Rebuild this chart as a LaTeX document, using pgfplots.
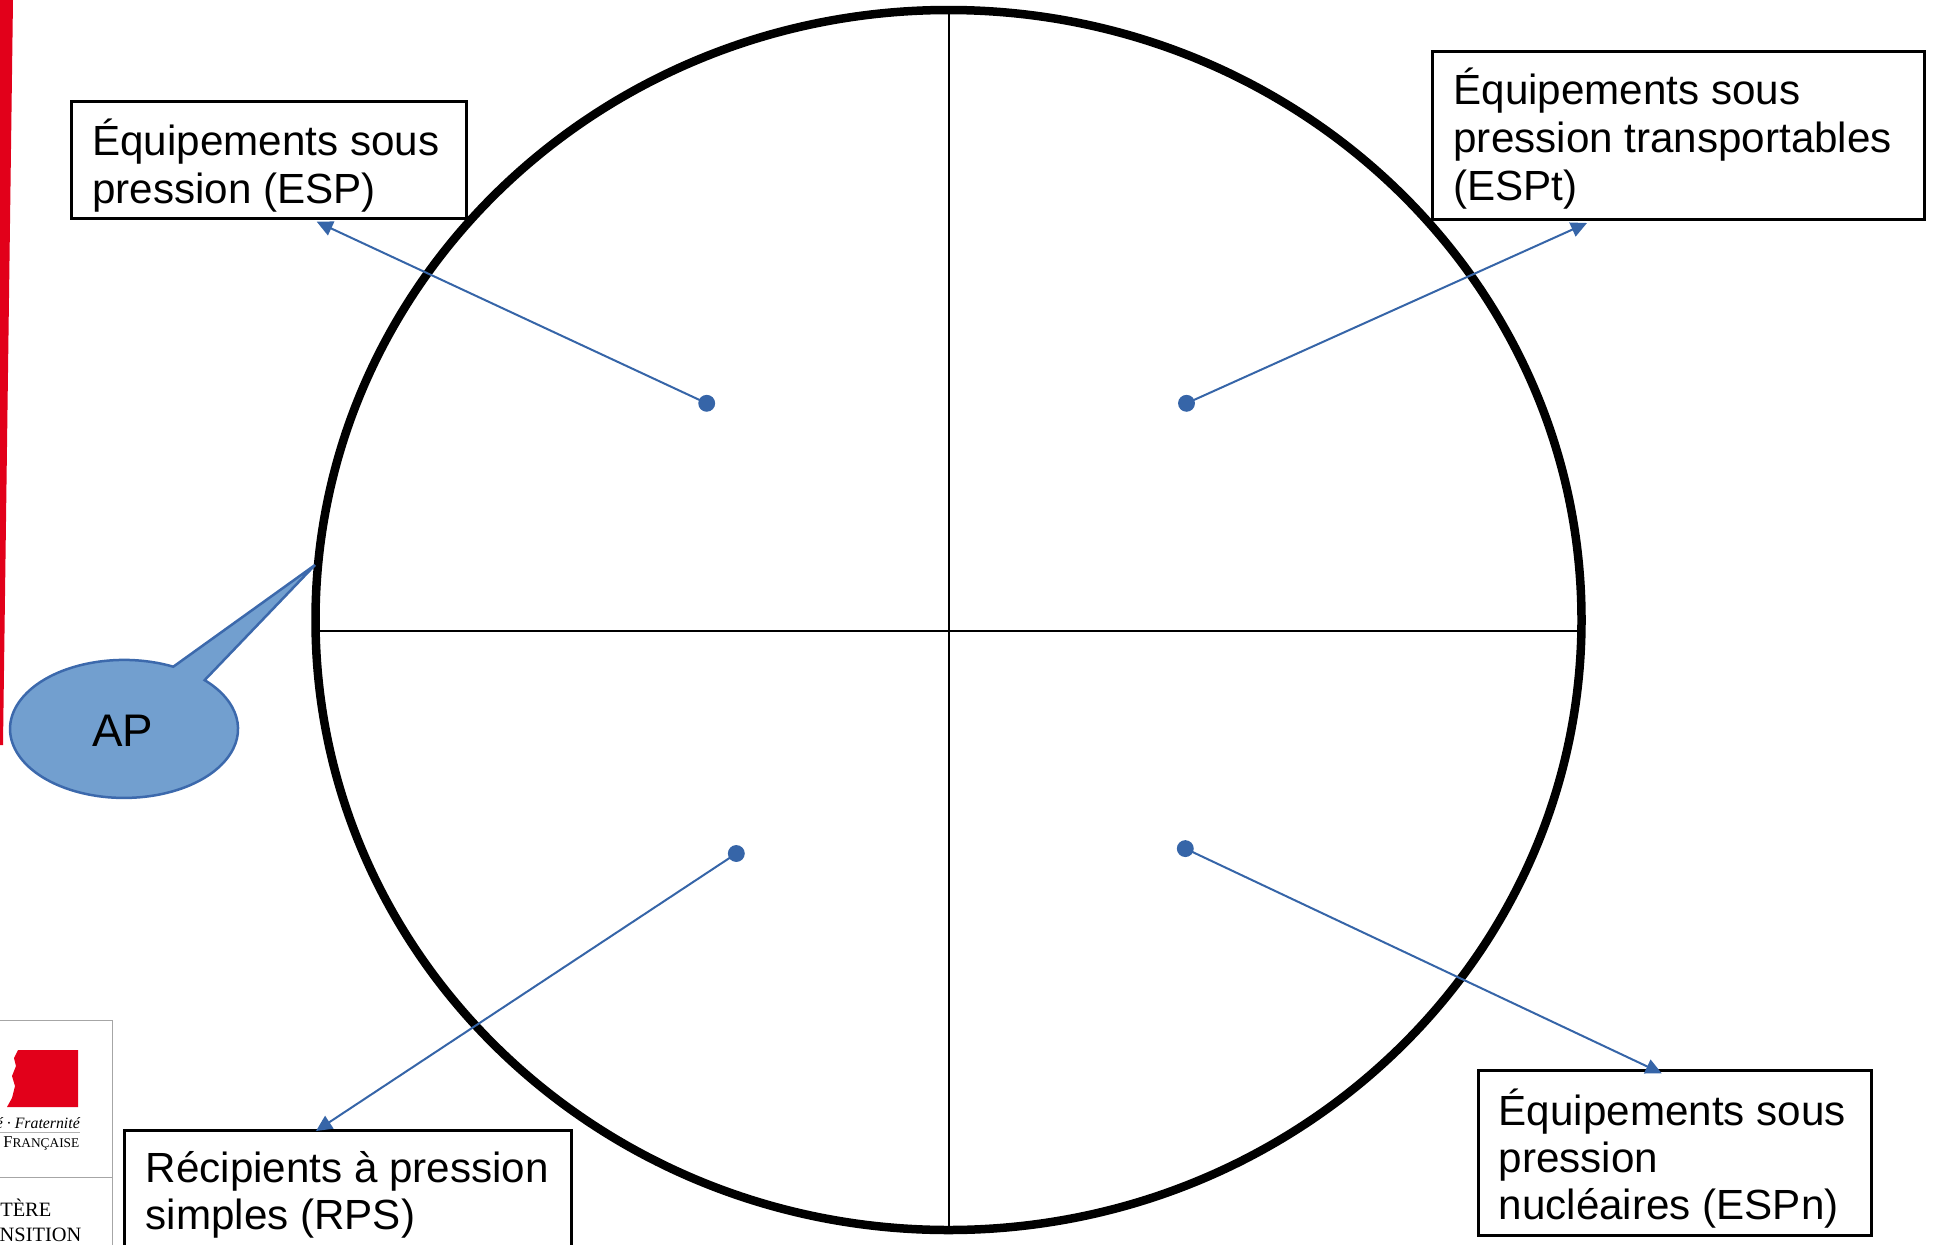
\documentclass[border=0pt]{standalone}
\usepackage{fontspec}
\setmainfont{Liberation Sans}
\newfontfamily\seriffont{Liberation Serif}
\usepackage{pgfplots}
\pgfplotsset{compat=1.18}
\usetikzlibrary{arrows.meta}
\definecolor{ablue}{RGB}{54,101,168}
\definecolor{cfill}{RGB}{114,159,207}
\definecolor{cdraw}{RGB}{60,105,172}
\definecolor{mred}{RGB}{226,0,26}
\begin{document}
\begin{tikzpicture}
\begin{axis}[name=ax, hide axis, scale only axis, width=193.4mm, height=124.4mm,
  xmin=0, xmax=1934, ymin=0, ymax=1244, y dir=reverse, clip=false]
% red strip
\fill[mred] (axis cs:0,0) -- (axis cs:13,0) -- (axis cs:3,745) -- (axis cs:0,745) -- cycle;
% circle and cross
\draw[line width=0.28mm] (axis cs:949,10) -- (axis cs:949,1230);
\draw[line width=0.28mm] (axis cs:317,631) -- (axis cs:1579,631);
\draw[line width=0.85mm] (axis cs:948.5,620) ellipse [x radius=63.3mm, y radius=61mm];
% boxes
\draw[line width=0.3mm, fill=white] (axis cs:71.7,101.7) rectangle (axis cs:466,218);
\draw[line width=0.3mm, fill=white] (axis cs:1432,51) rectangle (axis cs:1924,219.7);
\draw[line width=0.3mm, fill=white] (axis cs:1478,1070) rectangle (axis cs:1871.7,1235);
\draw[line width=0.3mm, fill=white] (axis cs:124,1130) rectangle (axis cs:571.7,1265);
% texts
\begin{scope}[every node/.style={anchor=base west, inner sep=0pt, font=\fontsize{12}{14}\selectfont}]
\node at (axis cs:91.7,155) {Équipements sous};
\node at (axis cs:91.7,203) {pression (ESP)};
\node at (axis cs:1452.8,104) {Équipements sous};
\node at (axis cs:1452.8,152) {pression transportables};
\node at (axis cs:1452.8,200) {(ESPt)};
\node at (axis cs:1498,1125) {Équipements sous};
\node at (axis cs:1498,1172) {pression};
\node at (axis cs:1498,1219) {nucléaires (ESPn)};
\node at (axis cs:145,1182) {Récipients à pression};
\node at (axis cs:145,1229) {simples (RPS)};
\end{scope}
% arrows
\addplot[ablue, line width=0.2mm, -{Triangle[length=1.6mm,width=1.5mm]}] coordinates {(706.7,403.3) (316.7,221.7)};
\addplot[ablue, line width=0.2mm, -{Triangle[length=1.6mm,width=1.5mm]}] coordinates {(1186.5,403.3) (1587,223)};
\addplot[ablue, line width=0.2mm, -{Triangle[length=1.6mm,width=1.5mm]}] coordinates {(736.3,853.5) (316,1131)};
\addplot[ablue, line width=0.2mm, -{Triangle[length=1.6mm,width=1.5mm]}] coordinates {(1185.3,848.6) (1661.7,1073.3)};
\addplot[only marks, mark=*, mark size=2.2pt, mark options={fill=ablue, draw=ablue}] coordinates {(706.7,403.3) (1186.5,403.3) (736.3,853.5) (1185.3,848.6)};
% callout
\draw[cdraw, fill=cfill, line width=0.25mm] (axis cs:173.3,666.7) arc[start angle=64.4, end angle=405, x radius=11.4mm, y radius=6.9mm] -- (axis cs:315,565) -- cycle;
\node[anchor=base, inner sep=0pt, font=\fontsize{13}{15}\selectfont] at (axis cs:122.5,746.7) {AP};
% logo
\draw[gray!70, line width=0.1mm] (axis cs:-5,1020) -- (axis cs:112,1020) -- (axis cs:112,1260);
\draw[gray!70, line width=0.1mm] (axis cs:-5,1177) -- (axis cs:112,1177);
\fill[mred] (axis cs:18,1050) -- (axis cs:78,1050) -- (axis cs:78,1107) -- (axis cs:7,1107) -- (axis cs:12,1098) -- (axis cs:15,1086) -- (axis cs:12,1076) -- (axis cs:16,1066) -- (axis cs:14,1058) -- cycle;
\draw[gray!60, line width=0.08mm] (axis cs:0,1132) -- (axis cs:80,1132);
\node[anchor=base east, inner sep=0pt, font=\seriffont\itshape\fontsize{4.5}{5}\selectfont] at (axis cs:80.5,1128) {Liberté · Égalité · Fraternité};
\node[anchor=base east, inner sep=0pt, font=\seriffont\fontsize{4.7}{5}\selectfont] at (axis cs:80,1147) {RÉPUBLIQUE F{\fontsize{3.8}{4}\selectfont RANÇAISE}};
\node[anchor=base east, inner sep=0pt, font=\seriffont\fontsize{5.8}{6}\selectfont] at (axis cs:52,1216) {MINISTÈRE};
\node[anchor=base east, inner sep=0pt, font=\seriffont\fontsize{5.8}{6}\selectfont] at (axis cs:82,1241) {DE LA TRANSITION};
\end{axis}
\pgfresetboundingbox
\useasboundingbox (ax.south west) rectangle (ax.north east);
\end{tikzpicture}
\end{document}
